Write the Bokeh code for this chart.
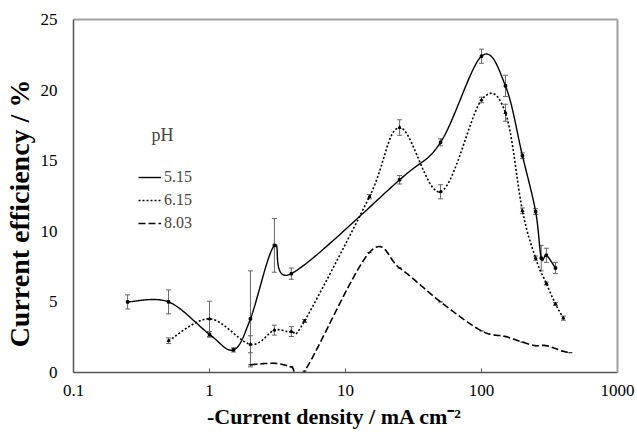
import numpy as np
from bokeh.plotting import figure
from bokeh.models import (ColumnDataSource, Whisker, TeeHead, Label, Legend, LegendItem,
                          FixedTicker, LogAxis, LinearAxis, CustomJSTickFormatter)
from bokeh.embed import file_html
from bokeh.resources import INLINE

# ---------------- data ----------------
x_515 = [0.25, 0.5, 1, 1.5, 2, 3, 4, 25, 50, 100, 150, 200, 250, 275, 300, 350]
y_515 = [5.0, 5.0, 2.7, 1.6, 3.8, 9.0, 7.0, 13.65, 16.3, 22.4, 20.3, 15.35, 11.4, 8.1, 8.3, 7.4]
e_515 = [0.5, 0.85, 0.2, 0.15, 3.4, 1.9, 0.4, 0.3, 0.25, 0.5, 0.75, 0.2, 0.2, 0.9, 0.5, 0.4]

x_615 = [0.5, 1, 2, 3, 4, 5, 15, 25, 50, 100, 150, 200, 250, 300, 350, 400]
y_615 = [2.25, 3.8, 2.0, 3.0, 2.9, 3.65, 12.45, 17.35, 12.8, 19.3, 18.4, 11.45, 8.1, 6.3, 4.85, 3.85]
e_615 = [0.2, 1.25, 0.6, 0.35, 0.35, 0.1, 0.15, 0.55, 0.5, 0.2, 0.6, 0.2, 0.15, 0.1, 0.1, 0.15]

x_803 = [2, 3, 4, 5, 15, 25, 50, 100, 150, 200, 250, 300, 400, 450]
y_803 = [0.55, 0.65, 0.4, 0.1, 8.5, 7.4, 5.0, 2.95, 2.55, 2.15, 1.9, 1.9, 1.5, 1.4]

series_names = ["5.15", "6.15", "8.03"]
x_ticks = [0.1, 1, 10, 100, 1000]
y_ticks = [0, 5, 10, 15, 20, 25]

NB = "\u00a0"
x_title = "-Current density / mA cm\u207b\u00b2" + NB * 4
y_title = "Current efficiency / %" + NB * 5


def smooth(xs, ys, n=40):
    """Excel-like smoothed line (Catmull-Rom Bezier) in log-x space."""
    P = np.column_stack([np.log10(xs), np.asarray(ys, float)])
    E = np.vstack([P[0], P, P[-1]])
    t = np.linspace(0, 1, n)[:, None]
    out = []
    for i in range(len(P) - 1):
        p0, p1, p2, p3 = E[i], E[i + 1], E[i + 2], E[i + 3]
        c1 = p1 + (p2 - p0) / 6.0
        c2 = p2 - (p3 - p1) / 6.0
        B = (1 - t) ** 3 * p1 + 3 * (1 - t) ** 2 * t * c1 + 3 * (1 - t) * t ** 2 * c2 + t ** 3 * p2
        out.append(B if i == 0 else B[1:])
    A = np.vstack(out)
    return 10 ** A[:, 0], A[:, 1]


SERIF = "Liberation Serif"

p = figure(width=637, height=432, x_axis_type="log", x_range=(0.1, 1000), y_range=(0, 25),
           output_backend="svg", toolbar_location=None,
           min_border_left=71, min_border_right=20, min_border_top=19, min_border_bottom=60)
p.xgrid.visible = False
p.ygrid.visible = False
p.outline_line_color = None
p.background_fill_color = "white"
p.border_fill_color = "white"

# axes
p.xaxis.ticker = FixedTicker(ticks=x_ticks)
p.xaxis.formatter = CustomJSTickFormatter(code="return String(tick)")
p.yaxis.ticker = FixedTicker(ticks=y_ticks)
for ax in (p.xaxis, p.yaxis):
    ax.axis_line_color = "#555555"
    ax.axis_line_width = 1.5
    ax.minor_tick_line_color = None
    ax.major_label_text_font = SERIF
    ax.major_label_text_font_size = "17px"
    ax.major_label_text_color = "black"
    ax.axis_label_text_font = SERIF
    ax.axis_label_text_font_style = "bold"
    ax.axis_label_text_color = "black"
p.xaxis.major_tick_in = 4
p.xaxis.major_tick_out = 0
p.xaxis.major_tick_line_color = "#555555"
p.xaxis.major_label_standoff = 12
p.yaxis.major_tick_line_color = None
p.yaxis.major_label_standoff = 10

p.xaxis.axis_label = x_title
p.xaxis.axis_label_text_font_size = "22px"
p.xaxis.axis_label_standoff = 5
p.yaxis.axis_label = y_title
p.yaxis.axis_label_text_font_size = "28px"
p.yaxis.axis_label_standoff = 3

top = LogAxis(ticker=FixedTicker(ticks=[]), axis_line_color="#a0a0a0", axis_line_width=2,
              major_tick_line_color=None, minor_tick_line_color=None, major_label_text_font_size="0px")
right = LinearAxis(ticker=FixedTicker(ticks=[]), axis_line_color="#a0a0a0", axis_line_width=2,
                   major_tick_line_color=None, minor_tick_line_color=None, major_label_text_font_size="0px")
p.add_layout(top, "above")
p.add_layout(right, "right")

# error bars
def add_err(xs, ys, es):
    src = ColumnDataSource(dict(x=xs, lo=[y - e for y, e in zip(ys, es)], hi=[y + e for y, e in zip(ys, es)]))
    w = Whisker(base="x", upper="hi", lower="lo", source=src, dimension="height",
                line_color="#666666", line_width=1,
                upper_head=TeeHead(size=5, line_color="#666666", line_width=1),
                lower_head=TeeHead(size=5, line_color="#666666", line_width=1))
    p.add_layout(w)

add_err(x_515, y_515, e_515)
add_err(x_615, y_615, e_615)

# lines
sx, sy = smooth(x_515, y_515)
l1 = p.line(sx, sy, line_color="black", line_width=1.4)
m1 = p.scatter(x_515, y_515, marker="square", size=2.5, color="black")

sx, sy = smooth(x_615, y_615)
l2 = p.line(sx, sy, line_color="black", line_width=1.6, line_dash="2 2")
m2 = p.scatter(x_615, y_615, marker="triangle", size=3, color="black")

sx, sy = smooth(x_803, y_803)
l3 = p.line(sx, sy, line_color="black", line_width=1.6, line_dash="7 3")
m3 = p.scatter(x_803, y_803, marker="dash", size=4, color="black")

legend = Legend(items=[LegendItem(label=series_names[0], renderers=[l1]),
                       LegendItem(label=series_names[1], renderers=[l2]),
                       LegendItem(label=series_names[2], renderers=[l3])],
                location=(65, 139), padding=0, margin=0, spacing=3,
                glyph_width=23, glyph_height=20, label_height=20, label_standoff=3,
                label_text_font=SERIF, label_text_font_size="16px",
                border_line_color=None, background_fill_alpha=0)
p.add_layout(legend)

p.add_layout(Label(x=78, y=238, x_units="screen", y_units="screen", text="pH",
                   text_font=SERIF, text_font_size="18px", text_baseline="middle"))

open("out.html", "w").write(file_html(p, INLINE))
